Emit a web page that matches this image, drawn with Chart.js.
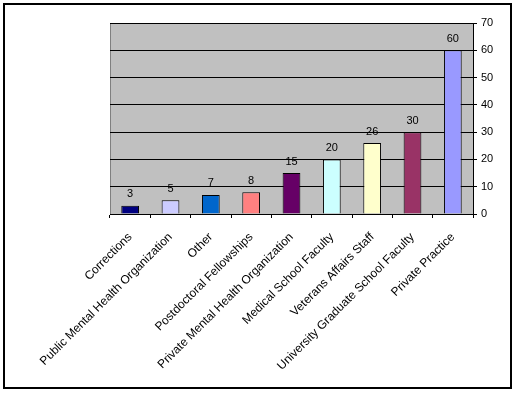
<!DOCTYPE html>
<html>
<head>
<meta charset="utf-8">
<script src="https://cdn.jsdelivr.net/npm/chart.js@4"></script>
<style>
    html, body { margin: 0; padding: 0; background: #fff; }
    #wrap { width: 516px; height: 394px; }
</style>
</head>
<body>
<div id="wrap"><canvas id="chart" width="516" height="394"></canvas></div>
<script>
// Dados do gráfico
const categorias = [
    'Corrections',
    'Public Mental Health Organization',
    'Other',
    'Postdoctoral Fellowships',
    'Private Mental Health Organization',
    'Medical School Faculty',
    'Veterans Affairs Staff',
    'University Graduate School Faculty',
    'Private Practice'
];
const valores = [3, 5, 7, 8, 15, 20, 26, 30, 60];
const cores = ['#000080', '#CCCCFF', '#0066CC', '#FF8080', '#660066', '#CCFFFF', '#FFFFCC', '#993366', '#9999FF'];
const yMax = 70;
const yPasso = 10;

// Fundo cinza da área do gráfico + moldura externa
const moldura = {
    id: 'moldura',
    beforeDraw(chart) {
        const { ctx, chartArea: a } = chart;
        ctx.save();
        ctx.fillStyle = '#fff';
        ctx.fillRect(0, 0, chart.width, chart.height);
        ctx.strokeStyle = '#000';
        ctx.lineWidth = 2;
        ctx.strokeRect(4, 4, 507, 384);
        ctx.fillStyle = '#C0C0C0';
        ctx.fillRect(a.left, a.top, a.right - a.left, a.bottom - a.top);
        ctx.strokeStyle = '#808080';
        ctx.lineWidth = 1;
        ctx.beginPath();
        ctx.moveTo(a.left + 0.5, a.bottom);
        ctx.lineTo(a.left + 0.5, a.top + 0.5);
        ctx.lineTo(a.right, a.top + 0.5);
        ctx.stroke();
        ctx.restore();
    }
};

// Rótulos de valor acima das barras
const rotulos = {
    id: 'rotulos',
    afterDatasetsDraw(chart) {
        const { ctx } = chart;
        const meta = chart.getDatasetMeta(0);
        ctx.save();
        ctx.font = '11px Arial, "Liberation Sans", sans-serif';
        ctx.fillStyle = '#000';
        ctx.textAlign = 'center';
        ctx.textBaseline = 'bottom';
        meta.data.forEach((bar, i) => {
            ctx.fillText(valores[i], bar.x, bar.y - 6);
        });
        ctx.restore();
    }
};

Chart.defaults.font.family = 'Arial, "Liberation Sans", sans-serif';
Chart.defaults.font.size = 10;
Chart.defaults.color = '#000';

new Chart(document.getElementById('chart').getContext('2d'), {
    type: 'bar',
    data: {
        labels: categorias,
        datasets: [{
            data: valores,
            backgroundColor: cores,
            borderColor: '#000',
            borderWidth: 1,
            categoryPercentage: 1,
            barPercentage: 0.44
        }]
    },
    options: {
        responsive: false,
        animation: false,
        layout: { padding: { left: 110, top: 23, right: 20, bottom: 10 } },
        plugins: {
            legend: { display: false },
            tooltip: { enabled: false }
        },
        scales: {
            x: {
                grid: { offset: true, drawOnChartArea: false, drawTicks: true, tickLength: 4, color: '#000' },
                border: { color: '#000' },
                ticks: { minRotation: 45, maxRotation: 45, autoSkip: false, padding: 12, font: { size: 12 } },
                afterFit(s) { s.height = 170; }
            },
            y: {
                position: 'right',
                min: 0,
                max: yMax,
                ticks: { stepSize: yPasso, padding: 4, font: { size: 11 } },
                grid: { color: '#000', tickLength: 4 },
                border: { color: '#000' },
                afterFit(s) { s.width = 23; }
            }
        }
    },
    plugins: [moldura, rotulos]
});
</script>
</body>
</html>
